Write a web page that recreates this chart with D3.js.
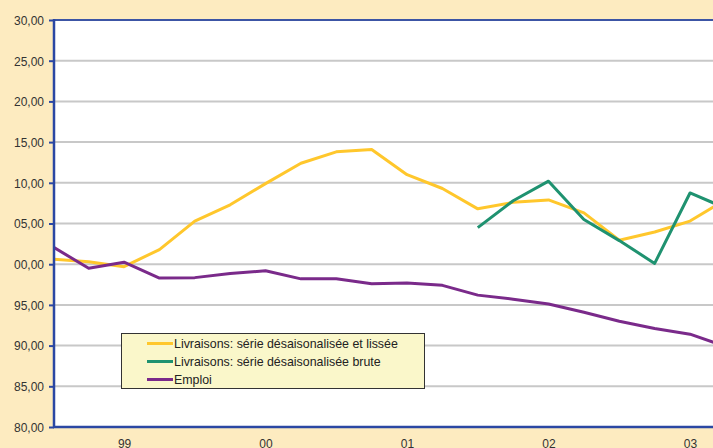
<!DOCTYPE html>
<html>
<head>
<meta charset="utf-8">
<script src="https://d3js.org/d3.v7.min.js"></script>
<style>
  body { margin: 0; background: #FDEBC0; }
  svg { display: block; font-family: "Liberation Sans", Arial, sans-serif; }
  .axis text { fill: #333; font-size: 12px; }
</style>
</head>
<body>
<svg id="chart" width="713" height="448"></svg>
<script>
// quarterly data, 20 quarters (the last one is cut by the right edge)
var quarters = d3.range(20);
var lissee = [100.6, 100.3, 99.7, 101.8, 105.3, 107.3, 109.9, 112.4, 113.8, 114.1,
              111.0, 109.3, 106.8, 107.6, 107.9, 106.3, 102.95, 103.95, 105.3, 107.9];
var brute = [null, null, null, null, null, null, null, null, null, null,
             null, null, 104.5, 107.8, 110.2, 105.5, 102.9, 100.1, 108.75, 106.9];
var emploi = [102.1, 99.5, 100.25, 98.3, 98.35, 98.85, 99.2, 98.2, 98.2, 97.6,
              97.7, 97.4, 96.2, 95.7, 95.1, 94.1, 93.0, 92.1, 91.4, 89.9];

var yTicks = [80, 85, 90, 95, 100, 105, 110, 115, 120, 125, 130];
var yTickLabels = ["80,00", "85,00", "90,00", "95,00", "00,00", "05,00", "10,00", "15,00", "20,00", "25,00", "30,00"];
var yearQuarter = [2, 6, 10, 14, 18];
var yearLabels = ["99", "00", "01", "02", "03"];

var series = [
  { name: "Livraisons: série désaisonalisée et lissée", values: lissee, color: "#FFC72C" },
  { name: "Livraisons: série désaisonalisée brute", values: brute, color: "#1F9270" },
  { name: "Emploi", values: emploi, color: "#7A2A8A" }
];

var svg = d3.select("#chart");
var pLeft = 54, pTop = 20, pBottom = 427, pRight = 760;

var x = d3.scaleLinear().domain([0, 19]).range([53.3, 725.4]);
var y = d3.scaleLinear().domain([80, 130]).range([pBottom, pTop]);

svg.append("rect").attr("width", 713).attr("height", 448).attr("fill", "#FDEBC0");
svg.append("rect")
  .attr("x", pLeft).attr("y", pTop)
  .attr("width", pRight - pLeft).attr("height", pBottom - pTop)
  .attr("fill", "#fff");

// grid
svg.append("g").selectAll("line")
  .data(yTicks.slice(1, -1))
  .enter().append("line")
  .attr("x1", pLeft).attr("x2", pRight)
  .attr("y1", function (d) { return y(d); })
  .attr("y2", function (d) { return y(d); })
  .attr("stroke", "#C8C8C8").attr("stroke-width", 2);

// top border of plot
svg.append("line")
  .attr("x1", pLeft).attr("x2", pRight)
  .attr("y1", pTop).attr("y2", pTop)
  .attr("stroke", "#3C55A5").attr("stroke-width", 2);

// lines
var line = d3.line()
  .defined(function (d) { return d != null; })
  .x(function (d, i) { return x(i); })
  .y(function (d) { return y(d); });

svg.append("clipPath").attr("id", "clip")
  .append("rect").attr("x", pLeft).attr("y", pTop).attr("width", pRight - pLeft).attr("height", pBottom - pTop);

svg.append("g").attr("clip-path", "url(#clip)")
  .selectAll("path")
  .data(series)
  .enter().append("path")
  .attr("d", function (d) { return line(d.values); })
  .attr("fill", "none")
  .attr("stroke", function (d) { return d.color; })
  .attr("stroke-width", 3)
  .attr("stroke-linejoin", "round");

// y axis
var yAxis = d3.axisLeft(y)
  .tickValues(yTicks)
  .tickSize(5)
  .tickPadding(5)
  .tickFormat(function (d, i) { return yTickLabels[i]; });

var gy = svg.append("g").attr("class", "axis")
  .attr("transform", "translate(" + pLeft + ",0)")
  .call(yAxis);
gy.select(".domain").remove();
gy.selectAll("line").attr("stroke", "#2B47A3").attr("stroke-width", 2);
gy.selectAll("text").attr("dy", "0.36em");

svg.append("line")
  .attr("x1", pLeft).attr("x2", pLeft).attr("y1", pTop - 1).attr("y2", pBottom + 1)
  .attr("stroke", "#2B47A3").attr("stroke-width", 2.5);

// x axis
var gx = svg.append("g").attr("class", "axis")
  .attr("transform", "translate(0," + pBottom + ")")
  .call(d3.axisBottom(x)
    .tickValues(yearQuarter)
    .tickSize(0)
    .tickPadding(12)
    .tickFormat(function (d, i) { return yearLabels[i]; }));
gx.select(".domain").remove();

svg.append("line")
  .attr("x1", pLeft - 1).attr("x2", pRight).attr("y1", pBottom).attr("y2", pBottom)
  .attr("stroke", "#2B47A3").attr("stroke-width", 2.5);

// legend
var lg = svg.append("g").attr("transform", "translate(121,333)");
lg.append("rect")
  .attr("x", 0.5).attr("y", 0.5)
  .attr("width", 303).attr("height", 55)
  .attr("fill", "#FAF7CA").attr("stroke", "#333").attr("stroke-width", 1);

var items = lg.selectAll("g.item")
  .data(series)
  .enter().append("g")
  .attr("class", "item")
  .attr("transform", function (d, i) { return "translate(0," + (10.5 + i * 18) + ")"; });

items.append("line")
  .attr("x1", 26).attr("x2", 52)
  .attr("stroke", function (d) { return d.color; })
  .attr("stroke-width", 3);

items.append("text")
  .attr("x", 53).attr("dy", "0.36em")
  .attr("font-size", 12.4).attr("fill", "#222")
  .text(function (d) { return d.name; });
</script>
</body>
</html>
